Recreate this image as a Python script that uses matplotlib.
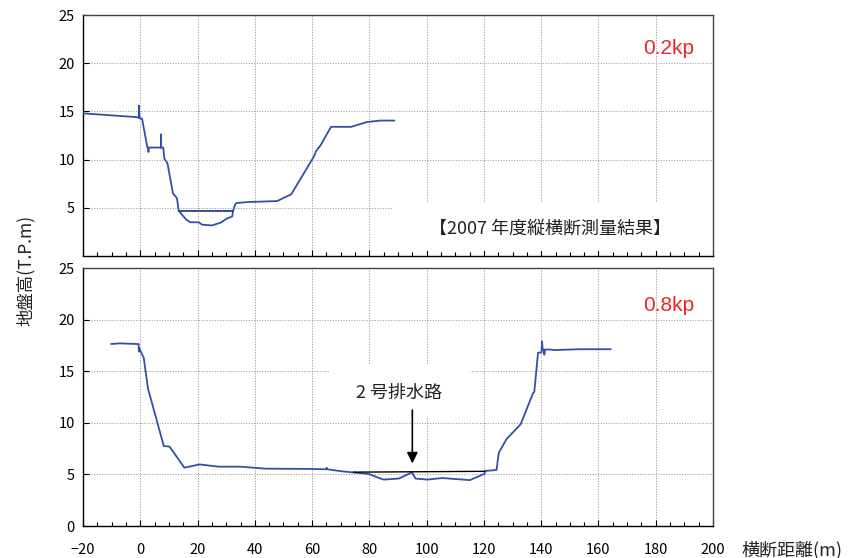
import numpy as np
import matplotlib
matplotlib.use("Agg")
import matplotlib.pyplot as plt
from matplotlib.patches import Rectangle
from matplotlib.ticker import MultipleLocator

plt.rcParams['font.family'] = ['Noto Sans CJK JP', 'DejaVu Sans']

# 0.2kp cross section (2007 survey)
x_02 = [-20, -0.9, -0.5, -0.5, -0.3, 0.6, 2.5, 2.7, 2.8, 2.9, 3.0, 7.2, 7.2, 7.2, 8.0,
        8.4, 9.5, 11.4, 12.8, 13.4, 14.5, 16.1, 17.5, 20.4, 21.6, 25.0, 28.0, 30.3, 32.1,
        32.4, 33.2, 33.6, 37.8, 47.8, 52.7, 60.6, 61.0, 61.4, 63.0, 66.6, 73.6, 79.2,
        83.9, 88.7]
y_02 = [14.8, 14.4, 14.3, 15.6, 14.3, 14.25, 11.25, 11.25, 10.8, 10.8, 11.25, 11.25, 12.6,
        11.25, 11.25, 10.1, 9.6, 6.5, 6.0, 4.7, 4.3, 3.76, 3.5, 3.5, 3.25, 3.17, 3.45, 3.9,
        4.1, 4.7, 5.4, 5.5, 5.6, 5.7, 6.4, 10.3, 10.6, 10.9, 11.5, 13.4, 13.4, 13.9, 14.05,
        14.05]
x_02_water = [13.4, 32.4]
y_02_water = [4.7, 4.7]

# 0.8kp cross section
x_08 = [-10.1, -7.2, -0.6, -0.5, -0.3, 0, 1.2, 2.7, 4.1, 8.2, 10.2, 15.4, 20.7, 27.4, 34.9,
        43.7, 59.4, 65.0, 65.1, 65.2, 70.5, 79.8, 83.9, 85, 90.3, 94.9, 96.1, 100.2, 105.4,
        115.1, 120.3, 120.3, 124.4, 125.2, 127.9, 132.8, 137.2, 137.6, 138.9, 140.1, 140.3,
        140.5, 141.0, 141.1, 141.3, 143.3, 144.4, 153.2, 164.2]
y_08 = [17.64, 17.7, 17.63, 16.9, 17.2, 17.0, 16.3, 13.3, 11.9, 7.75, 7.7, 5.65, 5.97, 5.75,
        5.75, 5.56, 5.53, 5.5, 5.65, 5.5, 5.3, 5.04, 4.6, 4.5, 4.6, 5.2, 4.6, 4.5, 4.65, 4.45,
        5.07, 5.33, 5.43, 7.1, 8.43, 9.85, 12.9, 13.0, 16.8, 16.8, 17.9, 17.1, 17.1, 16.6,
        17.1, 17.1, 17.05, 17.13, 17.13]
x_08_water = [74.5, 120.3]
y_08_water = [5.22, 5.3]

drain_x = 95
drain_y_from, drain_y_to = 11.5, 5.8

xticks = np.arange(-20, 201, 20)
yticks_top = [5, 10, 15, 20, 25]
yticks_bot = [0, 5, 10, 15, 20, 25]

blue = '#3350a8'

fig = plt.figure(figsize=(8.49, 5.58), dpi=100)
ax1 = fig.add_axes([0.0978, 0.5412, 0.742, 0.4319])
ax2 = fig.add_axes([0.0978, 0.0573, 0.742, 0.4624])

for ax in (ax1, ax2):
    ax.set_axisbelow(True)
    ax.set_xlim(-20, 200)
    ax.set_ylim(0, 25)
    ax.set_xticks(xticks)
    ax.xaxis.set_minor_locator(MultipleLocator(5))
    ax.grid(True, which='major', color='#a0a0a0', linestyle=(0, (1.2, 1.5)), linewidth=0.7)
    ax.tick_params(which='both', direction='in', labelsize=10.5, width=0.8)
    ax.tick_params(which='major', length=4)
    ax.tick_params(which='minor', length=3)
    ax.tick_params(axis='x', pad=12)
    ax.tick_params(axis='y', pad=6)
    ax.tick_params(axis='y', which='minor', left=False)
    for s in ax.spines.values():
        s.set_linewidth(1.0)
    ax.spines['top'].set_color('#444444')
    ax.spines['right'].set_color('#444444')

ax1.set_yticks(yticks_top)
ax1.tick_params(axis='x', labelbottom=False)
ax2.set_yticks(yticks_bot)

# top panel
ax1.add_patch(Rectangle((88.4, 0.5), 111.5, 5.0, facecolor='white', edgecolor='none', zorder=1))
ax1.plot(x_02, y_02, color=blue, lw=1.3, zorder=3)
ax1.plot(x_02_water, y_02_water, color='#2a3f8a', lw=1.3, zorder=3)
ax1.text(0.929, 0.863, '0.2kp', transform=ax1.transAxes, color='#e8262a', fontsize=15,
         family=['Liberation Sans', 'DejaVu Sans'], ha='center', va='center')
ax1.text(0.741, 0.112, '【2007 年度縦横断測量結果】', transform=ax1.transAxes, fontsize=13,
         ha='center', va='center', color='#222222', zorder=4)

# bottom panel
ax2.add_patch(Rectangle((66.4, 10.7), 48.9, 4.9, facecolor='white', edgecolor='none', zorder=1))
ax2.plot(x_08, y_08, color=blue, lw=1.3, zorder=3)
ax2.plot(x_08_water, y_08_water, color='black', lw=1.0, zorder=3)
ax2.text(0.929, 0.853, '0.8kp', transform=ax2.transAxes, color='#e8262a', fontsize=15,
         family=['Liberation Sans', 'DejaVu Sans'], ha='center', va='center')
ax2.text(90.5, 12.9, '2 号排水路', fontsize=13, ha='center', va='center', color='#222222', zorder=4)
ax2.annotate('', xy=(drain_x, drain_y_to), xytext=(drain_x, drain_y_from),
             arrowprops=dict(arrowstyle='-|>', color='black', lw=1.2, mutation_scale=16), zorder=4)

fig.text(0.03, 0.515, '地盤高(T.P.m)', rotation=90, fontsize=12.5, ha='center', va='center',
         color='#222222')
fig.text(0.873, 0.0143, '横断距離(m)', fontsize=13, ha='left', va='center', color='#222222')

fig.savefig('out.png', dpi=100)
